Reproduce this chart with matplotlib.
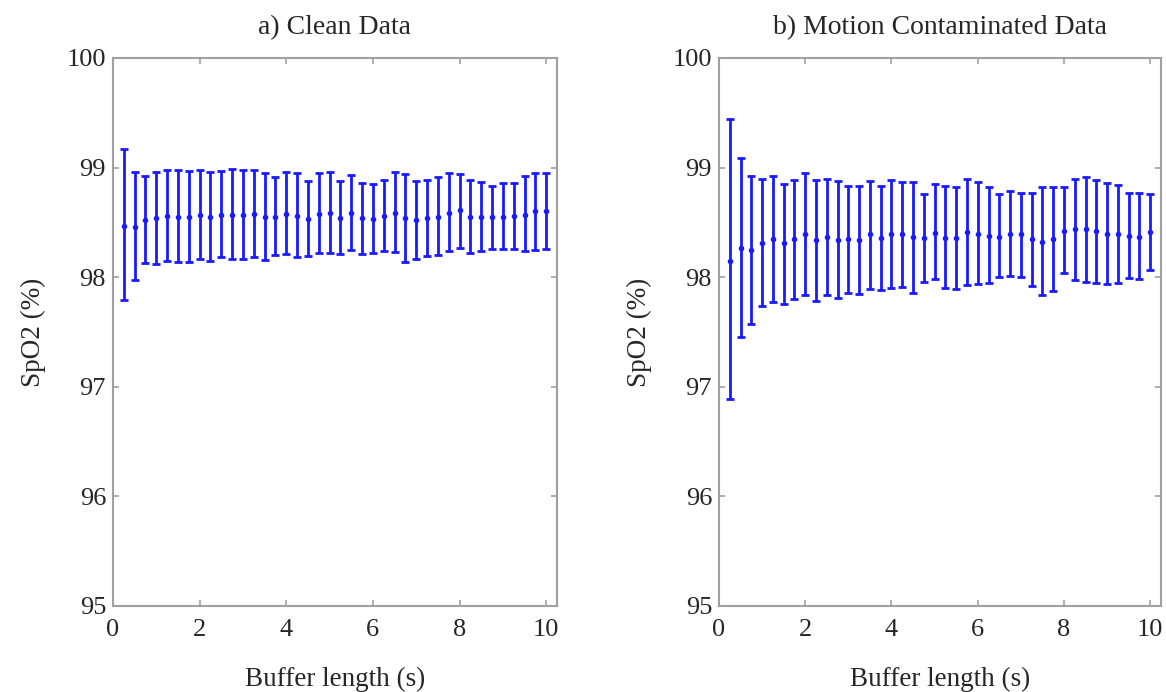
import numpy as np
import matplotlib
matplotlib.use("Agg")
import matplotlib.pyplot as plt

plt.rcParams['font.family'] = ['Liberation Serif', 'DejaVu Serif']

buffer_len = [0.25 * (i + 1) for i in range(40)]

clean_mean = [98.47, 98.46, 98.52, 98.54, 98.56, 98.55, 98.55, 98.57, 98.55, 98.57,
              98.57, 98.57, 98.58, 98.55, 98.55, 98.58, 98.56, 98.53, 98.58, 98.59,
              98.54, 98.59, 98.54, 98.53, 98.56, 98.59, 98.54, 98.52, 98.54, 98.55,
              98.59, 98.61, 98.55, 98.55, 98.55, 98.55, 98.56, 98.57, 98.60, 98.60]
clean_upper = [99.17, 98.96, 98.92, 98.96, 98.98, 98.98, 98.97, 98.98, 98.96, 98.97,
               98.99, 98.98, 98.98, 98.95, 98.91, 98.96, 98.95, 98.88, 98.95, 98.96,
               98.88, 98.93, 98.86, 98.85, 98.89, 98.96, 98.94, 98.88, 98.89, 98.91,
               98.95, 98.94, 98.89, 98.87, 98.83, 98.86, 98.86, 98.92, 98.95, 98.95]
clean_lower = [97.79, 97.97, 98.13, 98.12, 98.15, 98.14, 98.14, 98.17, 98.15, 98.18,
               98.17, 98.17, 98.18, 98.16, 98.20, 98.21, 98.18, 98.19, 98.22, 98.22,
               98.21, 98.25, 98.21, 98.22, 98.24, 98.23, 98.14, 98.17, 98.19, 98.20,
               98.24, 98.27, 98.22, 98.24, 98.26, 98.26, 98.26, 98.24, 98.25, 98.26]

motion_mean = [98.15, 98.27, 98.25, 98.31, 98.35, 98.31, 98.35, 98.39, 98.34, 98.37,
               98.34, 98.35, 98.34, 98.39, 98.36, 98.39, 98.39, 98.37, 98.36, 98.40,
               98.36, 98.36, 98.41, 98.39, 98.38, 98.37, 98.39, 98.39, 98.35, 98.32,
               98.35, 98.42, 98.44, 98.44, 98.42, 98.39, 98.39, 98.38, 98.37, 98.41]
motion_upper = [99.44, 99.09, 98.92, 98.90, 98.92, 98.85, 98.89, 98.95, 98.89, 98.90,
                98.88, 98.83, 98.83, 98.88, 98.83, 98.89, 98.87, 98.87, 98.76, 98.85,
                98.83, 98.82, 98.90, 98.87, 98.82, 98.76, 98.79, 98.77, 98.77, 98.82,
                98.82, 98.82, 98.90, 98.91, 98.89, 98.86, 98.84, 98.77, 98.77, 98.76]
motion_lower = [96.89, 97.45, 97.57, 97.74, 97.77, 97.76, 97.80, 97.84, 97.78, 97.84,
                97.81, 97.86, 97.85, 97.89, 97.88, 97.90, 97.91, 97.86, 97.96, 97.98,
                97.90, 97.89, 97.93, 97.94, 97.95, 98.00, 98.01, 98.00, 97.92, 97.84,
                97.87, 98.04, 97.97, 97.96, 97.95, 97.94, 97.95, 97.99, 97.98, 98.07]

titles = ["a) Clean Data", "b) Motion Contaminated Data"]
x_label = "Buffer length (s)"
y_label = "SpO2 (%)"
x_ticks = [0, 2, 4, 6, 8, 10]
y_ticks = [95, 96, 97, 98, 99, 100]

fig = plt.figure(figsize=(11.66, 6.92), dpi=100)
ax1 = fig.add_axes([113 / 1166, 86 / 692, 444 / 1166, 548 / 692])
ax2 = fig.add_axes([719 / 1166, 86 / 692, 442 / 1166, 548 / 692])

spine_col = '#a0a0a0'
text_col = '#262626'
blue = '#1a1aff'

for ax, mean, up, lo, title in [(ax1, clean_mean, clean_upper, clean_lower, titles[0]),
                                (ax2, motion_mean, motion_upper, motion_lower, titles[1])]:
    m = np.array(mean)
    yerr = [m - np.array(lo), np.array(up) - m]
    ax.errorbar(buffer_len, m, yerr=yerr, fmt='.', color=blue, ecolor=blue,
                markersize=6, elinewidth=2.0, capsize=3.2, capthick=2.0)
    ax.set_xlim(0, 10.25)
    ax.set_ylim(95, 100)
    ax.set_xticks(x_ticks)
    ax.set_yticks(y_ticks)
    ax.tick_params(direction='in', top=True, right=True, length=4, width=1.2,
                   color=spine_col, labelsize=19, labelcolor=text_col)
    ax.tick_params(axis='x', pad=9)
    ax.tick_params(axis='y', pad=5)
    for s in ax.spines.values():
        s.set_color(spine_col)
        s.set_linewidth(1.5)
    ax.set_title(title, fontsize=20, color=text_col, pad=17)
    ax.set_xlabel(x_label, fontsize=19.5, color=text_col, labelpad=19)
    ax.set_ylabel(y_label, fontsize=19.5, color=text_col, labelpad=15)

fig.savefig("out.png", dpi=100)
